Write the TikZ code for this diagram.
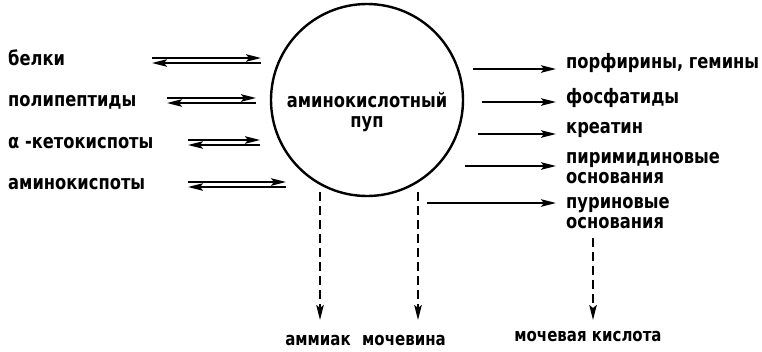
\documentclass[tikz,border=0pt]{standalone}
\usepackage{fontspec}
\usepackage{graphicx}
\setmainfont{DejaVu Sans}
\usetikzlibrary{arrows.meta}
\newcommand{\tx}[1]{\scalebox{1}[1.22]{#1}}
\begin{document}
\begin{tikzpicture}[x=1pt,y=-1pt,
  lbl/.style={inner sep=0pt,font=\fontsize{16.3}{20}\selectfont\bfseries},
  blbl/.style={inner sep=0pt,font=\fontsize{15}{20}\selectfont\bfseries},
  arr/.style={line width=1.9pt,-{Stealth[length=15pt,width=7.5pt,inset=3pt]}},
  darr/.style={arr,dash pattern=on 9pt off 5pt},
  pool/.style={draw,circle,line width=2.4pt,minimum size=192pt,inner sep=0pt}]
\useasboundingbox (0,0) rectangle (762,351);
% central pool
\node[pool] (P) at (367,100) {};
\node[lbl,align=center] (Pt) at (367,112) {\tx{аминокислотный}\\\tx{пуп}};
% left labels
\node[lbl,anchor=mid west] (L1) at (8,63) {\tx{белки}};
\node[lbl,anchor=mid west] (L2) at (8,104) {\tx{полипептиды}};
\node[lbl,anchor=mid west] (L3) at (8,146) {\tx{α -кетокиспоты}};
\node[lbl,anchor=mid west] (L4) at (8,187) {\tx{аминокиспоты}};
% double arrows
\coordinate (a1) at (152,58); \coordinate (b1) at (261,58);
\coordinate (c1) at (152,63); \coordinate (d1) at (261,63);
\coordinate (a2) at (167,98); \coordinate (b2) at (256,98);
\coordinate (c2) at (167,103); \coordinate (d2) at (256,103);
\coordinate (a3) at (188,140); \coordinate (b3) at (260,140);
\coordinate (c3) at (188,145); \coordinate (d3) at (260,145);
\coordinate (a4) at (188,182); \coordinate (b4) at (286,182);
\coordinate (c4) at (188,187); \coordinate (d4) at (286,187);
\foreach \i in {1,2,3,4}{
  \draw[arr] (a\i) -- (b\i);
  \draw[arr] (d\i) -- (c\i);
}
% right labels
\node[lbl,anchor=mid west] (R1) at (566,66) {\tx{порфирины, гемины}};
\node[lbl,anchor=mid west] (R2) at (566,101) {\tx{фосфатиды}};
\node[lbl,anchor=mid west] (R3) at (566,131) {\tx{креатин}};
\node[lbl,anchor=base west,align=left] (R4) at (566,183) {\tx{пиримидиновые}\\\tx{основания}};
\node[lbl,anchor=base west,align=left] (R5) at (566,228) {\tx{пуриновые}\\\tx{основания}};
\coordinate (s1) at (473,69); \coordinate (s2) at (482,102);
\coordinate (s3) at (478,134); \coordinate (s4) at (465,166);
\coordinate (s5) at (427,203);
\draw[arr] (s1) -- ([xshift=-10pt]R1.west |- s1);
\draw[arr] (s2) -- ([xshift=-10pt]R2.west |- s2);
\draw[arr] (s3) -- ([xshift=-10pt]R3.west |- s3);
\draw[arr] (s4) -- ([xshift=-10pt]R4.west |- s4);
\draw[arr] (s5) -- ([xshift=-10pt]R5.west |- s5);
% bottom labels
\node[blbl] (B1) at (318,340) {\tx{аммиак}};
\node[blbl] (B2) at (404,340) {\tx{мочевина}};
\node[blbl] (B3) at (588,336) {\tx{мочевая кислота}};
\coordinate (t1) at (320,192); \coordinate (t2) at (418,192);
\coordinate (t3) at (593,238);
\draw[darr] (t1) -- (t1 |- 0,320);
\draw[darr] (t2) -- (t2 |- 0,320);
\draw[darr] (t3) -- (t3 |- 0,320);
\end{tikzpicture}
\end{document}
